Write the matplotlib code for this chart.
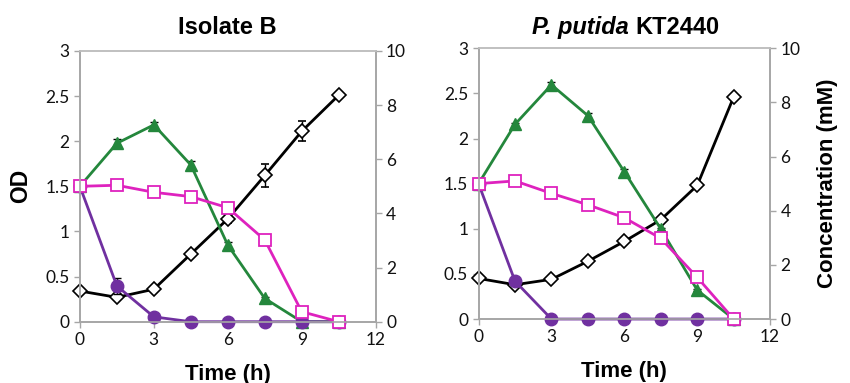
#! /usr/bin/env python3
"""Growth curves (OD) and substrate concentrations for two strains."""

import matplotlib
matplotlib.use('Agg')
import matplotlib.pyplot as plt
from matplotlib.ticker import FuncFormatter, MultipleLocator

# ── Data ─────────────────────────────────────────────────────────────────────
TIME = [0, 1.5, 3, 4.5, 6, 7.5, 9, 10.5]

# Isolate B
B_OD        = [0.34, 0.27, 0.36, 0.75, 1.14, 1.62, 2.11, 2.51]
B_OD_ERR    = [0.01, 0.02, 0.01, 0.02, 0.05, 0.13, 0.11, 0.01]
B_GREEN     = [5.0, 6.59, 7.27, 5.79, 2.83, 0.86, 0.0, 0.0]
B_GREEN_ERR = [0.0, 0.15, 0.10, 0.15, 0.10, 0.05, 0.0, 0.0]
B_PINK      = [5.0, 5.04, 4.78, 4.62, 4.21, 3.02, 0.37, 0.0]
B_PINK_ERR  = [0.0, 0.05, 0.05, 0.05, 0.15, 0.05, 0.05, 0.0]
B_PURPLE    = [5.0, 1.32, 0.18, 0.0, 0.0, 0.0, 0.0, 0.0]
B_PURP_ERR  = [0.0, 0.28, 0.03, 0.0, 0.0, 0.0, 0.0, 0.0]

# P. putida KT2440
P_OD        = [0.45, 0.38, 0.44, 0.64, 0.86, 1.10, 1.48, 2.46]
P_OD_ERR    = [0.01, 0.02, 0.01, 0.01, 0.01, 0.02, 0.02, 0.01]
P_GREEN     = [5.0, 7.19, 8.65, 7.51, 5.44, 3.33, 1.07, 0.0]
P_GREEN_ERR = [0.0, 0.05, 0.10, 0.10, 0.10, 0.05, 0.05, 0.0]
P_PINK      = [5.0, 5.10, 4.64, 4.22, 3.74, 2.98, 1.54, 0.0]
P_PINK_ERR  = [0.0, 0.03, 0.03, 0.03, 0.03, 0.03, 0.03, 0.0]
P_PURPLE    = [5.0, 1.40, 0.0, 0.0, 0.0, 0.0, 0.0, 0.0]
P_PURP_ERR  = [0.0, 0.05, 0.0, 0.0, 0.0, 0.0, 0.0, 0.0]

# ── Styles ───────────────────────────────────────────────────────────────────
GREEN  = '#24873C'
PINK   = '#DE22BE'
PURPLE = '#7030A0'
SPINE  = '#A6A6A6'
TICK_FONT  = 'Lato'
LABEL_FONT = 'Liberation Sans'


def style_axes(ax, twin):
    for a in (ax, twin):
        for s in a.spines.values():
            s.set_color(SPINE)
            s.set_linewidth(1.2)
        a.spines['top'].set_color('#C0C0C0')
        a.tick_params(direction='out', length=4, width=1, color=SPINE,
                      labelsize=12.5, labelcolor='#111111')
    ax.set_xlim(0, 12)
    ax.set_ylim(0, 3)
    twin.set_ylim(0, 10)
    ax.xaxis.set_major_locator(MultipleLocator(3))
    ax.yaxis.set_major_locator(MultipleLocator(0.5))
    twin.yaxis.set_major_locator(MultipleLocator(2))
    ax.yaxis.set_major_formatter(FuncFormatter(lambda v, p: '{:g}'.format(v)))
    for lab in ax.get_xticklabels() + ax.get_yticklabels() + twin.get_yticklabels():
        lab.set_fontfamily(TICK_FONT)
    ax.set_xlabel('Time (h)', fontsize=16, fontweight='bold', family=LABEL_FONT)
    ax.xaxis.set_label_coords(0.5, -0.155)


def draw_panel(ax, od, od_err, green, green_err, pink, pink_err, purp, purp_err):
    twin = ax.twinx()
    ekw = dict(ecolor='black', elinewidth=1, capsize=3, capthick=1)

    ax.errorbar(TIME, od, yerr=od_err, color='black', lw=2, marker='D',
                ms=7, mfc='white', mec='black', mew=1.2, **ekw)
    twin.errorbar(TIME, green, yerr=green_err, color=GREEN, lw=2, marker='^',
                  ms=9, mfc=GREEN, mec=GREEN, **ekw)
    twin.errorbar(TIME, purp, yerr=purp_err, color=PURPLE, lw=2, marker='o',
                  ms=9, mfc=PURPLE, mec=PURPLE, **ekw)
    twin.errorbar(TIME, pink, yerr=pink_err, color=PINK, lw=2, marker='s',
                  ms=8, mfc='white', mec=PINK, mew=1.3, **ekw)
    for line in ax.lines + twin.lines:
        line.set_clip_on(False)
    style_axes(ax, twin)
    return twin


fig = plt.figure(figsize=(8.5, 3.83), dpi=100)
ax1 = fig.add_axes([0.094, 0.160, 0.348, 0.707])
ax2 = fig.add_axes([0.563, 0.167, 0.343, 0.707])

tw1 = draw_panel(ax1, B_OD, B_OD_ERR, B_GREEN, B_GREEN_ERR,
                 B_PINK, B_PINK_ERR, B_PURPLE, B_PURP_ERR)
tw2 = draw_panel(ax2, P_OD, P_OD_ERR, P_GREEN, P_GREEN_ERR,
                 P_PINK, P_PINK_ERR, P_PURPLE, P_PURP_ERR)

ax1.set_ylabel('OD', fontsize=16.5, fontweight='bold', family=LABEL_FONT)
ax1.yaxis.set_label_coords(-0.16, 0.5)
tw2.set_ylabel('Concentration (mM)', fontsize=16, fontweight='bold',
               family=LABEL_FONT)
tw2.yaxis.set_label_coords(1.16, 0.5)

# ── Titles ───────────────────────────────────────────────────────────────────
fig.text(0.268, 0.911, 'Isolate B', ha='center', va='baseline',
         fontsize=17, fontweight='bold', family=LABEL_FONT)
t1 = fig.text(0.6255, 0.911, 'P. putida ', ha='left', va='baseline',
              fontsize=17, fontweight='bold', fontstyle='italic', family=LABEL_FONT)
ax2.annotate('KT2440', xy=(1, 0), xycoords=t1, ha='left', va='bottom',
             fontsize=17, fontweight='bold', family=LABEL_FONT,
             annotation_clip=False)

fig.savefig('out.png', dpi=100)
